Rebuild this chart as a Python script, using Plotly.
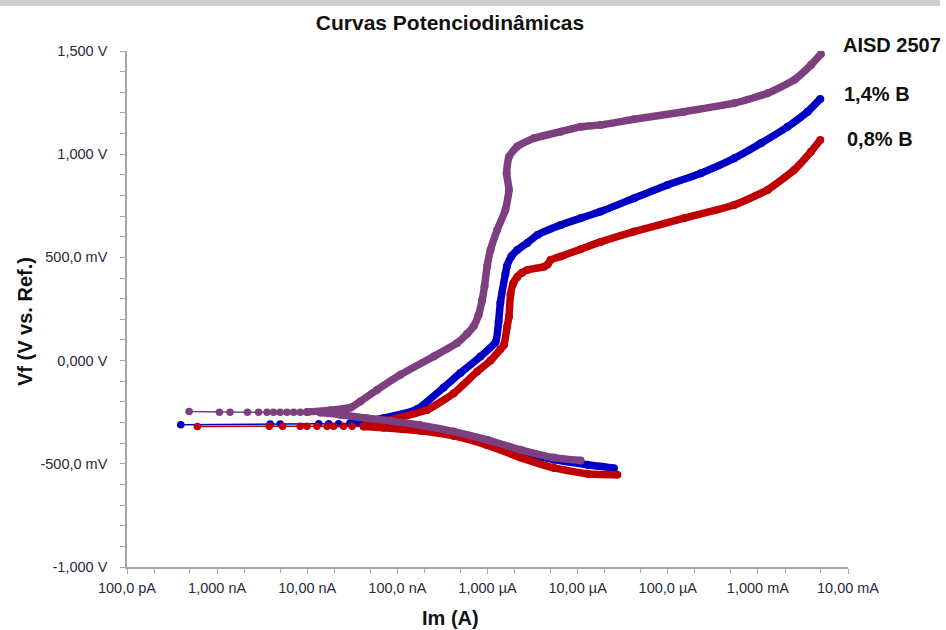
import math
import plotly.graph_objects as go

# ---------------- axis ticks ----------------
x_tick_vals = [1e-10, 1e-9, 1e-8, 1e-7, 1e-6, 1e-5, 1e-4, 1e-3, 1e-2]
x_tick_text = ["100,0 pA", "1,000 nA", "10,00 nA", "100,0 nA", "1,000 µA",
               "10,00 µA", "100,0 µA", "1,000 mA", "10,00 mA"]
y_tick_vals = [-1.0, -0.5, 0.0, 0.5, 1.0, 1.5]
y_tick_text = ["-1,000 V", "-500,0 mV", "0,000 V", "500,0 mV", "1,000 V", "1,500 V"]

series_names = ["AISD 2507", "1,4% B", "0,8% B"]

# ---------------- AISD 2507 (purple) ----------------
aisd_cath_i = [1.08e-5, 5.46e-6, 2.33e-6, 9.93e-7, 4.23e-7, 1.80e-7, 8.36e-8, 4.60e-8, 2.33e-8, 1.39e-8]
aisd_cath_v = [-0.484, -0.470, -0.432, -0.384, -0.344, -0.313, -0.292, -0.279, -0.262, -0.252]
aisd_ecorr_i = [4.89e-10, 1.06e-9, 1.39e-9, 2.17e-9, 2.88e-9, 3.57e-9, 4.22e-9, 5.01e-9,
                5.95e-9, 7.05e-9, 8.36e-9, 9.93e-9]
aisd_ecorr_v = [-0.247, -0.250, -0.250, -0.250, -0.250, -0.250, -0.250, -0.250,
                -0.250, -0.250, -0.250, -0.250]
aisd_anod_i = [9.93e-9, 1.80e-8, 3.01e-8, 3.88e-8, 5.94e-8, 1.08e-7, 2.53e-7, 4.60e-7,
               5.94e-7, 7.05e-7, 7.94e-7, 8.73e-7, 9.26e-7, 9.93e-7, 1.08e-6, 1.28e-6,
               1.58e-6, 1.73e-6, 1.63e-6, 1.73e-6, 2.14e-6, 3.27e-6, 6.48e-6, 1.08e-5,
               1.80e-5, 4.23e-5, 1.52e-4, 5.46e-4, 1.28e-3, 2.53e-3, 3.88e-3, 5.01e-3]
aisd_anod_v = [-0.249, -0.240, -0.228, -0.198, -0.142, -0.069, 0.020, 0.085,
               0.130, 0.168, 0.220, 0.294, 0.360, 0.460, 0.536, 0.633,
               0.730, 0.827, 0.908, 0.988, 1.037, 1.077, 1.109, 1.133,
               1.142, 1.169, 1.206, 1.247, 1.295, 1.360, 1.432, 1.485]

# ---------------- 1,4% B (blue) ----------------
b14_cath_i = [2.53e-5, 1.28e-5, 5.46e-6, 2.33e-6, 9.93e-7, 4.23e-7, 1.80e-7, 7.05e-8, 3.01e-8]
b14_cath_v = [-0.521, -0.505, -0.480, -0.442, -0.392, -0.350, -0.318, -0.306, -0.304]
b14_ecorr_i = [3.95e-10, 3.88e-9, 5.01e-9, 1.34e-8, 1.73e-8, 2.23e-8, 3.01e-8]
b14_ecorr_v = [-0.311, -0.307, -0.307, -0.306, -0.306, -0.306, -0.305]
b14_anod_i = [3.01e-8, 7.05e-8, 1.66e-7, 3.27e-7, 5.01e-7, 8.36e-7, 1.23e-6, 1.33e-6,
              1.39e-6, 1.58e-6, 1.65e-6, 1.84e-6, 2.14e-6, 2.76e-6, 3.58e-6, 6.48e-6,
              1.08e-5, 1.80e-5, 4.23e-5, 9.93e-5, 2.33e-4, 5.46e-4, 1.08e-3, 2.14e-3,
              3.57e-3, 4.92e-3]
b14_anod_v = [-0.305, -0.279, -0.235, -0.130, -0.060, 0.020, 0.090, 0.190,
              0.280, 0.420, 0.460, 0.505, 0.536, 0.570, 0.609, 0.657,
              0.690, 0.722, 0.787, 0.851, 0.908, 0.980, 1.053, 1.133,
              1.206, 1.268]

# ---------------- 0,8% B (red) ----------------
b08_cath_i = [2.76e-5, 1.28e-5, 5.46e-6, 2.33e-6, 9.93e-7, 4.23e-7, 1.80e-7, 7.05e-8, 4.23e-8]
b08_cath_v = [-0.553, -0.548, -0.520, -0.470, -0.410, -0.365, -0.340, -0.325, -0.319]
b08_ecorr_i = [6.04e-10, 3.79e-9, 5.32e-9, 8.36e-9, 9.93e-9, 1.28e-8, 1.66e-8, 1.96e-8,
               2.53e-8, 3.14e-8, 4.23e-8]
b08_ecorr_v = [-0.319, -0.318, -0.318, -0.318, -0.318, -0.318, -0.318, -0.318,
               -0.318, -0.318, -0.318]
b08_anod_i = [4.23e-8, 7.05e-8, 1.08e-7, 2.14e-7, 4.23e-7, 7.69e-7, 1.08e-6, 1.39e-6,
              1.52e-6, 1.65e-6, 1.73e-6, 1.80e-6, 1.93e-6, 2.14e-6, 2.40e-6, 2.76e-6,
              4.23e-6, 4.65e-6, 5.01e-6, 6.48e-6, 1.08e-5, 1.80e-5, 4.23e-5, 1.52e-4,
              5.46e-4, 1.28e-3, 2.53e-3, 3.88e-3, 4.92e-3]
b08_anod_v = [-0.318, -0.295, -0.275, -0.239, -0.158, -0.053, 0.000, 0.055,
              0.075, 0.165, 0.213, 0.320, 0.375, 0.405, 0.425, 0.439,
              0.455, 0.465, 0.488, 0.504, 0.540, 0.575, 0.625, 0.690,
              0.754, 0.827, 0.924, 1.012, 1.069]

colors = ["#7d3f80", "#0000c4", "#c00000"]

series = [
    (b14_cath_i, b14_cath_v, b14_ecorr_i, b14_ecorr_v, b14_anod_i, b14_anod_v, colors[1], series_names[1]),
    (b08_cath_i, b08_cath_v, b08_ecorr_i, b08_ecorr_v, b08_anod_i, b08_anod_v, colors[2], series_names[2]),
    (aisd_cath_i, aisd_cath_v, aisd_ecorr_i, aisd_ecorr_v, aisd_anod_i, aisd_anod_v, colors[0], series_names[0]),
]

fig = go.Figure()
for ci, cv, ei, ev, ai, av, col, name in series:
    # sparse points near the corrosion potential: thin line with dots
    fig.add_trace(go.Scatter(x=ei, y=ev, mode="lines+markers", name=name,
                             line=dict(color=col, width=1.5),
                             marker=dict(color=col, size=7.5), showlegend=False,
                             hoverinfo="skip"))
    # dense cathodic and anodic branches: thick band
    for bx, by in ((ci, cv), (ai, av)):
        fig.add_trace(go.Scatter(x=bx, y=by, mode="lines+markers", name=name,
                                 line=dict(color=col, width=7.5, shape="spline", smoothing=0.5),
                                 marker=dict(color=col, size=8), showlegend=False,
                                 hoverinfo="skip"))

# series labels at the end of the anodic branches
label_shift = {series_names[0]: (20, 9), series_names[1]: (22, 5), series_names[2]: (25, 1)}
label_font = dict(family="Liberation Sans, Arial", size=20, color="#111111")
for ci, cv, ei, ev, ai, av, col, name in series:
    dx, dy = label_shift[name]
    fig.add_annotation(x=math.log10(ai[-1]), y=av[-1], xref="x", yref="y",
                       text="<b>%s</b>" % name,
                       showarrow=False, xanchor="left", yanchor="middle",
                       xshift=dx, yshift=dy, font=label_font)

axis_col = "#a6a6a6"
tick_font = dict(family="Liberation Sans, Arial", size=14.5, color="#2a2a3a")

fig.update_xaxes(type="log", range=[-10, -2], tickvals=x_tick_vals, ticktext=x_tick_text,
                 ticks="outside", ticklen=5, tickwidth=1, tickcolor=axis_col,
                 showline=True, linecolor=axis_col, linewidth=1.5,
                 showgrid=False, zeroline=False, mirror=False,
                 minor=dict(ticks="outside", ticklen=4, tickcolor=axis_col, showgrid=False),
                 tickfont=tick_font, ticklabelstandoff=2)
fig.update_yaxes(range=[-1.0, 1.5], tickvals=y_tick_vals, ticktext=y_tick_text,
                 ticks="outside", ticklen=5, tickwidth=1, tickcolor=axis_col,
                 showline=True, linecolor=axis_col, linewidth=1.5,
                 showgrid=False, zeroline=False, mirror=False,
                 minor=dict(ticks="outside", ticklen=5, dtick=0.1, tickcolor=axis_col, showgrid=False),
                 tickfont=tick_font, ticklabelstandoff=10)

fig.update_layout(
    width=946, height=630,
    margin=dict(l=127, r=98, t=51, b=63),
    paper_bgcolor="white", plot_bgcolor="white",
    showlegend=False,
    title=dict(text="<b>Curvas Potenciodinâmicas</b>", x=450 / 946, xanchor="center",
               y=1 - 23 / 630, yanchor="middle",
               font=dict(family="Liberation Sans, Arial", size=21, color="#111111")),
)

# axis titles
fig.add_annotation(text="<b>Im (A)</b>", xref="paper", yref="paper",
                   x=(450 - 127) / 721, y=-(618 - 567) / 516, showarrow=False,
                   xanchor="center", yanchor="middle",
                   font=dict(family="Liberation Sans, Arial", size=20, color="#111111"))
fig.add_annotation(text="<b>Vf (V vs. Ref.)</b>", xref="paper", yref="paper",
                   x=-(127 - 25) / 721, y=(567 - 322) / 516, showarrow=False, textangle=-90,
                   xanchor="center", yanchor="middle",
                   font=dict(family="Liberation Sans, Arial", size=20, color="#111111"))

# light grey frame strip along the top of the picture
fig.add_shape(type="rect", xref="paper", yref="paper",
              x0=-127 / 721, x1=(940 - 127) / 721,
              y0=(567 - 6) / 516, y1=567 / 516,
              fillcolor="#cdcdcd", line=dict(width=0), layer="below")

fig.write_html("out.html", config={"displayModeBar": False},
               post_script="document.body.style.margin='0';document.body.style.overflow='hidden';")
